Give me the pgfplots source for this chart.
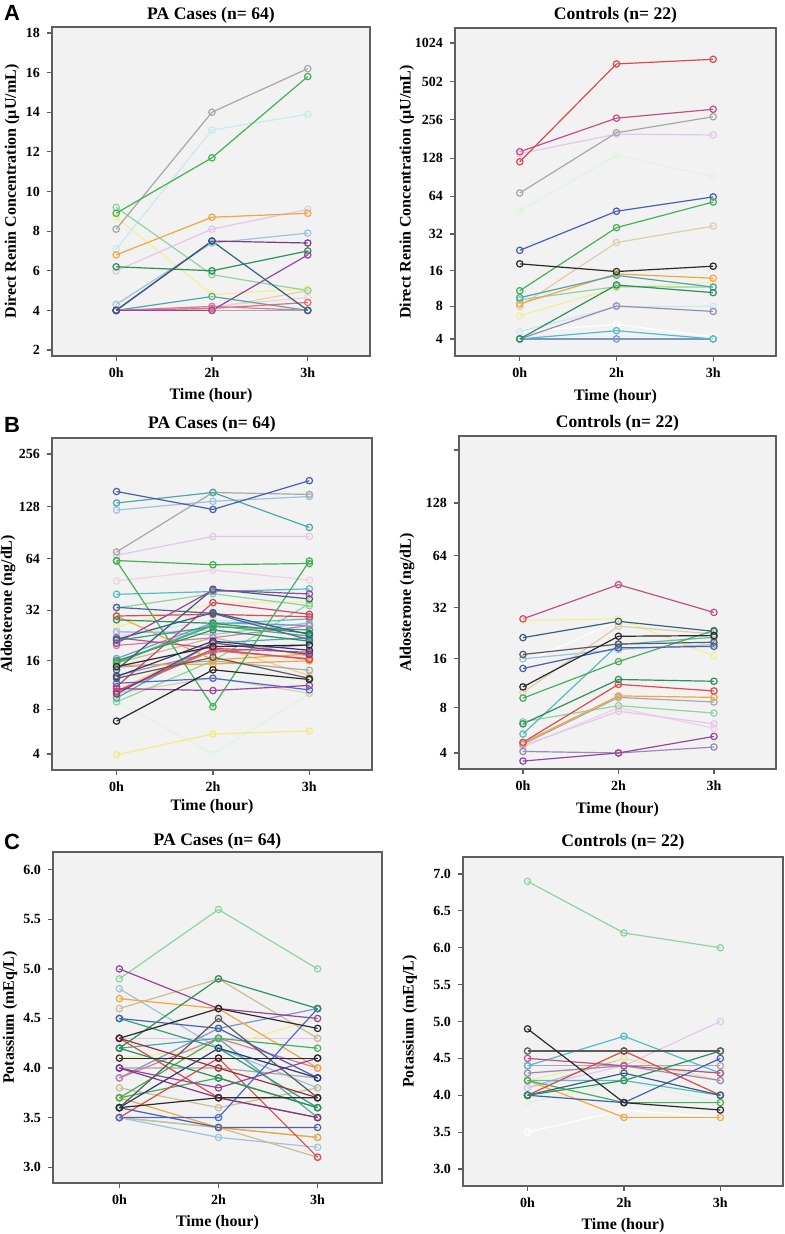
\documentclass[border=0pt]{standalone}
\usepackage{fontspec}
\setmainfont{Liberation Serif}
\newfontfamily\sansbold{Liberation Sans}
\usepackage{pgfplots}
\pgfplotsset{compat=1.18}
\definecolor{bgc}{HTML}{F2F2F2}
\definecolor{framec}{HTML}{5E5E5E}
\definecolor{kgrey}{HTML}{A8A8A8}
\definecolor{kgreen}{HTML}{45B057}
\definecolor{klcyan}{HTML}{C5EBEF}
\definecolor{korange}{HTML}{F2A640}
\definecolor{klav}{HTML}{E3C6EC}
\definecolor{klblue}{HTML}{9EC3DD}
\definecolor{kdpurp}{HTML}{7B3B87}
\definecolor{kdgreen}{HTML}{2F8F5B}
\definecolor{klgreen}{HTML}{8ED4A0}
\definecolor{kyellow}{HTML}{F3EE9A}
\definecolor{kdteal}{HTML}{35607E}
\definecolor{kteal}{HTML}{4FA6AA}
\definecolor{kpurple}{HTML}{97479A}
\definecolor{ksalmon}{HTML}{E46E6E}
\definecolor{kpink}{HTML}{D47AA8}
\definecolor{klorange}{HTML}{F3CE8E}
\definecolor{kred}{HTML}{E04A4A}
\definecolor{kmagenta}{HTML}{C24F87}
\definecolor{kmint}{HTML}{DDF5DD}
\definecolor{kblue}{HTML}{4A5FB0}
\definecolor{kbeige}{HTML}{DDCDAA}
\definecolor{kblack}{HTML}{2A2A2A}
\definecolor{kpurpgrey}{HTML}{9A8AB8}
\definecolor{kcyan}{HTML}{55BCC6}
\definecolor{kbluegrey}{HTML}{7C98C6}
\definecolor{kdgrey}{HTML}{5A5A5A}
\definecolor{knavy}{HTML}{2A3A78}
\definecolor{ktan}{HTML}{CDBB98}
\definecolor{klpink}{HTML}{F0D0E2}
\definecolor{kdred}{HTML}{A03030}
\definecolor{ktealgreen}{HTML}{30A080}
\definecolor{kslate}{HTML}{5060A0}
\definecolor{kpinkred}{HTML}{D04070}
\definecolor{kyellow2}{HTML}{F5EA80}
\definecolor{kblue2}{HTML}{4A6AD0}
\pgfplotsset{
  panel/.style={
    scale only axis,
    axis background/.style={fill=bgc},
    axis line style={draw=framec, line width=0.7pt},
    xmin=-0.67, xmax=2.65,
    xtick={0,1,2}, xticklabels={0h,2h,3h},
    tick align=outside, xtick pos=left, ytick pos=left,
    major tick length=2.5pt,
    tick style={draw=framec, line width=0.6pt},
    ticklabel style={font=\fontsize{7}{8}\selectfont\bfseries},
    /pgf/number format/assume math mode=true,
    every axis title/.style={at={(0.5,1)}, anchor=center, font=\fontsize{8.8}{10}\selectfont\bfseries},
    label style={font=\fontsize{8}{9}\selectfont\bfseries},
    xlabel={Time (hour)},
    every axis plot/.append style={line width=0.6pt, mark=o, mark size=1.6pt, mark options={solid}},
  },
  logp/.style={
    y filter/.expression={ln(y+1)},
    ytick={1.6094,2.1972,2.8332,3.4965,4.1744,4.8598,5.5491},
  },
}
\begin{document}
\begin{tikzpicture}
\path[use as bounding box] (0,0) rectangle (392pt,617pt);
\node[font=\sansbold\fontsize{11}{12}\selectfont\bfseries] at (6pt,610.5pt) {A};
\node[font=\sansbold\fontsize{11}{12}\selectfont\bfseries] at (6pt,404.5pt) {B};
\node[font=\sansbold\fontsize{11}{12}\selectfont\bfseries] at (6pt,196pt) {C};

% ---------------- A left
\begin{axis}[panel, at={(26pt,439pt)}, anchor=south west, width=159pt, height=164.5pt,
  ymin=1.7, ymax=18.3, ytick={2,4,...,18},
  title={PA Cases (n= 64)}, title style={at={(axis description cs:0.5,1.036)}},
  xlabel style={at={(axis description cs:0.5,-0.122)}, anchor=center},
  ylabel={Direct Renin Concentration (\textmu U/mL)}, ylabel style={at={(axis description cs:-0.126,0.5)}, anchor=center}]
\addplot[kgrey] coordinates {(0,4)(1,4)(2,4)};
\addplot[klorange] coordinates {(0,4)(1,4.1)(2,5.0)};
\addplot[klpink] coordinates {(0,4)(1,4.2)(2,4.65)};
\addplot[kyellow] coordinates {(0,8.7)(1,4.8)(2,5.1)};
\addplot[klcyan] coordinates {(0,7.1)(1,13.1)(2,13.9)};
\addplot[klav] coordinates {(0,6.0)(1,8.1)(2,9.1)};
\addplot[klblue] coordinates {(0,4.3)(1,7.4)(2,7.9)};
\addplot[klgreen] coordinates {(0,9.2)(1,5.8)(2,5.0)};
\addplot[kgrey] coordinates {(0,8.1)(1,14.0)(2,16.2)};
\addplot[kgreen] coordinates {(0,8.9)(1,11.7)(2,15.8)};
\addplot[korange] coordinates {(0,6.8)(1,8.7)(2,8.9)};
\addplot[kdgreen] coordinates {(0,6.2)(1,6.0)(2,7.0)};
\addplot[kteal] coordinates {(0,4)(1,4.7)(2,4)};
\addplot[ksalmon] coordinates {(0,4)(1,4.1)(2,4.4)};
\addplot[kpink] coordinates {(0,4)(1,4.2)(2,4)};
\addplot[kpurple] coordinates {(0,4)(1,4)(2,6.8)};
\addplot[kdpurp] coordinates {(0,4)(1,7.5)(2,7.4)};
\addplot[kdteal] coordinates {(0,4)(1,7.5)(2,4)};
\end{axis}

% ---------------- A right
\begin{axis}[panel, at={(227.5pt,439pt)}, anchor=south west, width=160.5pt, height=164pt,
  y filter/.expression={ln(y+1)},
  ymin=1.303, ymax=7.202,
  ytick={1.6094,2.1972,2.8332,3.4965,4.1744,4.8598,5.5491,6.2403,6.9324},
  yticklabels={4,8,16,32,64,128,256,502,1024},
  title={Controls (n= 22)}, title style={at={(axis description cs:0.5,1.040)}},
  xlabel style={at={(axis description cs:0.5,-0.125)}, anchor=center},
  ylabel={Direct Renin Concentration (\textmu U/mL)}, ylabel style={at={(axis description cs:-0.150,0.5)}, anchor=center}]
\addplot[white] coordinates {(0,4.7)(1,5.5)(2,4.2)};
\addplot[kmint] coordinates {(0,49)(1,135)(2,92)};
\addplot[klav] coordinates {(0,139)(1,198)(2,195)};
\addplot[klcyan] coordinates {(0,4.7)(1,7.9)(2,8.0)};
\addplot[kyellow] coordinates {(0,6.6)(1,11.6)(2,12.8)};
\addplot[kbeige] coordinates {(0,8.0)(1,27.3)(2,37.1)};
\addplot[klgreen] coordinates {(0,9.1)(1,11.8)(2,11.7)};
\addplot[kbluegrey] coordinates {(0,4)(1,4)(2,4)};
\addplot[kcyan] coordinates {(0,4)(1,4.8)(2,4)};
\addplot[kpurpgrey] coordinates {(0,4)(1,8.05)(2,7.2)};
\addplot[kgrey] coordinates {(0,68)(1,203)(2,271)};
\addplot[kmagenta] coordinates {(0,144)(1,264)(2,310)};
\addplot[kred] coordinates {(0,120)(1,702)(2,763)};
\addplot[kblue] coordinates {(0,23.6)(1,48.7)(2,63.3)};
\addplot[kgreen] coordinates {(0,10.9)(1,36)(2,57.7)};
\addplot[korange] coordinates {(0,8.4)(1,15.1)(2,13.9)};
\addplot[kteal] coordinates {(0,9.5)(1,14.7)(2,11.7)};
\addplot[kdgreen] coordinates {(0,4)(1,12.2)(2,10.5)};
\addplot[kblack] coordinates {(0,18.3)(1,15.8)(2,17.5)};
\end{axis}

% ---------------- B left
\begin{axis}[panel, logp, at={(26pt,232pt)}, anchor=south west, width=160pt, height=166pt,
  ymin=1.399, ymax=5.759,
  yticklabels={4,8,16,32,64,128,256},
  title={PA Cases (n= 64)}, title style={at={(axis description cs:0.5,1.042)}},
  xlabel style={at={(axis description cs:0.5,-0.111)}, anchor=center},
  ylabel={Aldosterone (ng/dL)}, ylabel style={at={(axis description cs:-0.1375,0.5)}, anchor=center}]
\addplot[kmint] coordinates {(0,9.0)(1,4.0)(2,10)};
\addplot[klpink] coordinates {(0,47.5)(1,55)(2,48)};
\addplot[klcyan] coordinates {(0,22.3)(1,28)(2,26)};
\addplot[kyellow] coordinates {(0,25.6)(1,35)(2,36)};
\addplot[klav] coordinates {(0,23.5)(1,24.4)(2,21)};
\addplot[klorange] coordinates {(0,10.5)(1,20)(2,13)};
\addplot[kbeige] coordinates {(0,10.1)(1,12.6)(2,10.1)};
\addplot[klblue] coordinates {(0,122)(1,137)(2,146)};
\addplot[klblue] coordinates {(0,24)(1,23)(2,27)};
\addplot[klgreen] coordinates {(0,33)(1,40)(2,34)};
\addplot[klgreen] coordinates {(0,8.9)(1,16)(2,35)};
\addplot[klav] coordinates {(0,67)(1,86)(2,86)};
\addplot[kyellow2] coordinates {(0,3.95)(1,5.5)(2,5.76)};
\addplot[kgrey] coordinates {(0,70)(1,154)(2,150)};
\addplot[kgrey] coordinates {(0,14.6)(1,16)(2,14)};
\addplot[ktan] coordinates {(0,15.5)(1,22)(2,17)};
\addplot[kpurpgrey] coordinates {(0,13)(1,18)(2,20)};
\addplot[kbluegrey] coordinates {(0,16.5)(1,27)(2,26)};
\addplot[kpink] coordinates {(0,19.8)(1,22)(2,26)};
\addplot[ksalmon] coordinates {(0,10.3)(1,18.4)(2,16.5)};
\addplot[korange] coordinates {(0,29.6)(1,16.2)(2,17.6)};
\addplot[korange] coordinates {(0,15)(1,15.3)(2,16)};
\addplot[kcyan] coordinates {(0,39.7)(1,41.2)(2,42.7)};
\addplot[kcyan] coordinates {(0,15.6)(1,26.5)(2,28.5)};
\addplot[kteal] coordinates {(0,134)(1,154)(2,97)};
\addplot[kteal] coordinates {(0,9.4)(1,20.5)(2,22)};
\addplot[kred] coordinates {(0,29.6)(1,30.3)(2,29.3)};
\addplot[kred] coordinates {(0,10.4)(1,18.8)(2,16.3)};
\addplot[kpinkred] coordinates {(0,11.1)(1,35.5)(2,30.3)};
\addplot[kmagenta] coordinates {(0,22)(1,19)(2,18)};
\addplot[kdgreen] coordinates {(0,28.1)(1,26.8)(2,23.4)};
\addplot[kdgreen] coordinates {(0,16)(1,24.5)(2,21)};
\addplot[ktealgreen] coordinates {(0,21.2)(1,25.6)(2,24.5)};
\addplot[kgreen] coordinates {(0,15.5)(1,26)(2,22.5)};
\addplot[kgreen] coordinates {(0,62.4)(1,59)(2,60)};
\addplot[kgreen] coordinates {(0,62)(1,8.3)(2,62)};
\addplot[kslate] coordinates {(0,33.3)(1,30.7)(2,21.4)};
\addplot[kblue] coordinates {(0,156)(1,123)(2,180)};
\addplot[kblue2] coordinates {(0,11.65)(1,12.5)(2,10.6)};
\addplot[knavy] coordinates {(0,12.8)(1,21)(2,18.5)};
\addplot[kdteal] coordinates {(0,14.1)(1,42.5)(2,37.3)};
\addplot[kdteal] coordinates {(0,21.5)(1,31)(2,23)};
\addplot[kpurple] coordinates {(0,20.4)(1,42)(2,39.9)};
\addplot[kpurple] coordinates {(0,10.8)(1,10.5)(2,11.3)};
\addplot[kdpurp] coordinates {(0,10)(1,20.5)(2,17.5)};
\addplot[kdgrey] coordinates {(0,12.5)(1,16.8)(2,12.5)};
\addplot[kblack] coordinates {(0,14.75)(1,19.5)(2,19.9)};
\addplot[kblack] coordinates {(0,6.7)(1,14.1)(2,12.3)};
\end{axis}

% ---------------- B right
\begin{axis}[panel, logp, at={(229.5pt,232.5pt)}, anchor=south west, width=158.5pt, height=166.5pt,
  ymin=1.401, ymax=5.731,
  yticklabels={4,8,16,32,64,128,{}},
  title={Controls (n= 22)}, title style={at={(axis description cs:0.5,1.039)}},
  xlabel style={at={(axis description cs:0.5,-0.123)}, anchor=center},
  ylabel={Aldosterone (ng/dL)}, ylabel style={at={(axis description cs:-0.164,0.5)}, anchor=center}]
\addplot[white] coordinates {(0,15)(1,27)(2,23)};
\addplot[kyellow] coordinates {(0,27)(1,27.6)(2,16.7)};
\addplot[klblue] coordinates {(0,16)(1,18.2)(2,19.5)};
\addplot[kbeige] coordinates {(0,10)(1,25)(2,22.5)};
\addplot[klpink] coordinates {(0,4.4)(1,8.0)(2,5.9)};
\addplot[klav] coordinates {(0,4.5)(1,7.6)(2,6.3)};
\addplot[klgreen] coordinates {(0,6.5)(1,8.25)(2,7.4)};
\addplot[kgrey] coordinates {(0,4.6)(1,9.3)(2,8.7)};
\addplot[kcyan] coordinates {(0,5.4)(1,19.5)(2,21.5)};
\addplot[kpurpgrey] coordinates {(0,4.1)(1,4.0)(2,4.4)};
\addplot[kpurple] coordinates {(0,3.5)(1,4.0)(2,5.2)};
\addplot[korange] coordinates {(0,4.7)(1,9.5)(2,9.3)};
\addplot[kred] coordinates {(0,4.74)(1,11.2)(2,10.2)};
\addplot[kdgreen] coordinates {(0,6.3)(1,12.0)(2,11.7)};
\addplot[kgreen] coordinates {(0,9.2)(1,15.4)(2,23.6)};
\addplot[kblue] coordinates {(0,14.0)(1,18.6)(2,19.0)};
\addplot[kdgrey] coordinates {(0,17.0)(1,19.6)(2,20.1)};
\addplot[kdteal] coordinates {(0,21.4)(1,26.7)(2,23.3)};
\addplot[kblack] coordinates {(0,10.8)(1,21.8)(2,22.0)};
\addplot[kmagenta] coordinates {(0,27.6)(1,43.6)(2,30.1)};
\end{axis}

% ---------------- C left
\begin{axis}[panel, at={(26.5pt,25.5pt)}, anchor=south west, width=164.5pt, height=165.5pt,
  ymin=2.84, ymax=6.18, ytick={3.0,3.5,...,6.0},
  yticklabel style={/pgf/number format/.cd, fixed, fixed zerofill, precision=1},
  title={PA Cases (n= 64)}, title style={at={(axis description cs:0.5,1.033)}},
  xlabel style={at={(axis description cs:0.5,-0.121)}, anchor=center},
  ylabel={Potassium (mEq/L)}, ylabel style={at={(axis description cs:-0.131,0.5)}, anchor=center}]
\addplot[klblue] coordinates {(0,3.5)(1,3.3)(2,3.2)};
\addplot[klgreen] coordinates {(0,3.5)(1,3.4)(2,3.3)};
\addplot[klav] coordinates {(0,4.3)(1,4.3)(2,4.3)};
\addplot[kyellow] coordinates {(0,4.1)(1,4.2)(2,4.5)};
\addplot[klblue] coordinates {(0,4.8)(1,4.2)(2,3.8)};
\addplot[ktan] coordinates {(0,3.8)(1,3.6)(2,3.8)};
\addplot[ktan] coordinates {(0,4.6)(1,4.9)(2,4.3)};
\addplot[ktan] coordinates {(0,3.5)(1,3.4)(2,3.1)};
\addplot[klgreen] coordinates {(0,4.9)(1,5.6)(2,5.0)};
\addplot[kgrey] coordinates {(0,4.0)(1,4.0)(2,3.9)};
\addplot[kbluegrey] coordinates {(0,3.9)(1,4.4)(2,4.6)};
\addplot[kpink] coordinates {(0,3.9)(1,4.3)(2,4.0)};
\addplot[korange] coordinates {(0,4.7)(1,4.6)(2,4.0)};
\addplot[korange] coordinates {(0,3.7)(1,3.4)(2,3.3)};
\addplot[kteal] coordinates {(0,4.2)(1,4.3)(2,3.5)};
\addplot[ktealgreen] coordinates {(0,4.5)(1,4.2)(2,3.6)};
\addplot[kgreen] coordinates {(0,3.7)(1,4.3)(2,4.2)};
\addplot[kgreen] coordinates {(0,3.7)(1,3.9)(2,3.6)};
\addplot[kred] coordinates {(0,4.3)(1,3.7)(2,3.5)};
\addplot[kred] coordinates {(0,3.5)(1,4.1)(2,3.1)};
\addplot[kdred] coordinates {(0,4.3)(1,4.0)(2,3.7)};
\addplot[kpurple] coordinates {(0,4.0)(1,3.8)(2,4.1)};
\addplot[kdpurp] coordinates {(0,4.0)(1,3.7)(2,3.5)};
\addplot[kpurple] coordinates {(0,5.0)(1,4.6)(2,4.5)};
\addplot[kblue] coordinates {(0,4.5)(1,4.4)(2,3.9)};
\addplot[kblue2] coordinates {(0,3.5)(1,3.5)(2,4.6)};
\addplot[kslate] coordinates {(0,3.6)(1,3.4)(2,3.4)};
\addplot[knavy] coordinates {(0,3.6)(1,4.2)(2,3.9)};
\addplot[kdgreen] coordinates {(0,4.2)(1,4.9)(2,4.6)};
\addplot[kdgreen] coordinates {(0,4.2)(1,3.9)(2,3.6)};
\addplot[kdgrey] coordinates {(0,3.6)(1,4.5)(2,3.7)};
\addplot[kblack] coordinates {(0,4.3)(1,4.6)(2,4.4)};
\addplot[kblack] coordinates {(0,3.6)(1,3.7)(2,3.7)};
\addplot[kblack] coordinates {(0,4.1)(1,4.1)(2,4.1)};
\end{axis}

% ---------------- C right
\begin{axis}[panel, at={(231.5pt,24pt)}, anchor=south west, width=160pt, height=164.5pt,
  ymin=2.77, ymax=7.23, ytick={3.0,3.5,...,7.0},
  yticklabel style={/pgf/number format/.cd, fixed, fixed zerofill, precision=1},
  title={Controls (n= 22)}, title style={at={(axis description cs:0.5,1.046)}},
  xlabel style={at={(axis description cs:0.5,-0.122)}, anchor=center},
  ylabel={Potassium (mEq/L)}, ylabel style={at={(axis description cs:-0.166,0.5)}, anchor=center}]
\addplot[white] coordinates {(0,3.5)(1,3.8)(2,3.7)};
\addplot[kmint] coordinates {(0,3.9)(1,4.2)(2,3.9)};
\addplot[klblue] coordinates {(0,4.1)(1,4.5)(2,4.2)};
\addplot[kyellow] coordinates {(0,4.2)(1,4.5)(2,4.2)};
\addplot[klpink] coordinates {(0,4.3)(1,4.4)(2,4.3)};
\addplot[klav] coordinates {(0,4.1)(1,4.4)(2,5.0)};
\addplot[kcyan] coordinates {(0,4.2)(1,4.2)(2,4.0)};
\addplot[kgrey] coordinates {(0,4.4)(1,4.4)(2,4.4)};
\addplot[kpurpgrey] coordinates {(0,4.3)(1,4.4)(2,4.2)};
\addplot[klgreen] coordinates {(0,6.9)(1,6.2)(2,6.0)};
\addplot[kcyan] coordinates {(0,4.4)(1,4.8)(2,4.3)};
\addplot[korange] coordinates {(0,4.2)(1,3.7)(2,3.7)};
\addplot[kgreen] coordinates {(0,4.2)(1,3.9)(2,3.9)};
\addplot[kmagenta] coordinates {(0,4.5)(1,4.4)(2,4.3)};
\addplot[kred] coordinates {(0,4.0)(1,4.6)(2,4.0)};
\addplot[kblue] coordinates {(0,4.0)(1,3.9)(2,4.5)};
\addplot[kdteal] coordinates {(0,4.0)(1,4.3)(2,4.0)};
\addplot[kdgreen] coordinates {(0,4.0)(1,4.2)(2,4.6)};
\addplot[kdgrey] coordinates {(0,4.6)(1,4.6)(2,4.6)};
\addplot[kblack] coordinates {(0,4.9)(1,3.9)(2,3.8)};
\end{axis}
\end{tikzpicture}
\end{document}
